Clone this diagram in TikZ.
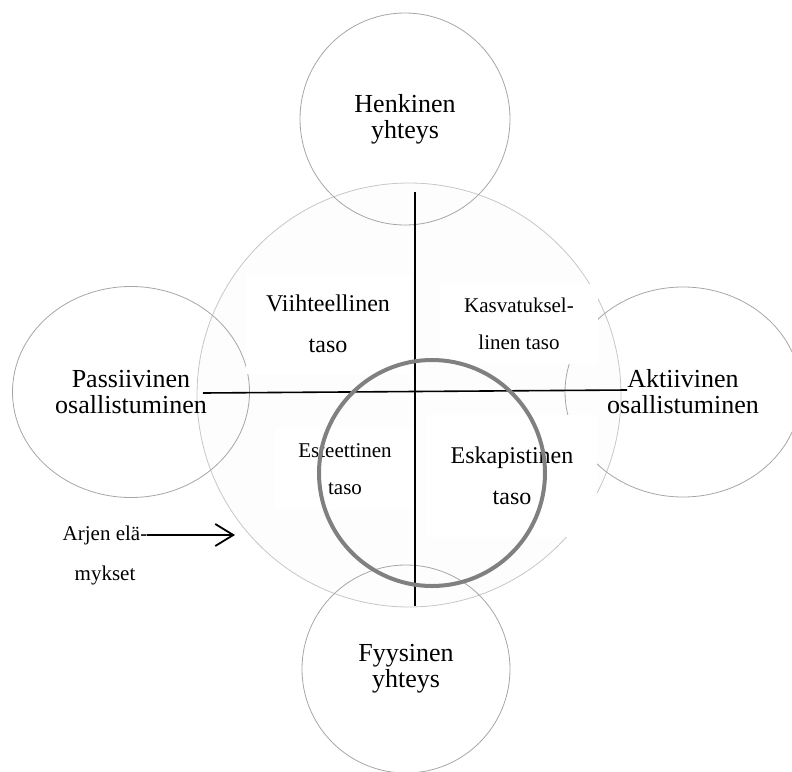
\documentclass[tikz,border=0pt]{standalone}
\usepackage{fontspec}
\setmainfont{Liberation Serif}
\usetikzlibrary{shapes.geometric,arrows.meta}
\tikzset{
	ympyra/.style={ellipse, draw=black!35, line width=0.8pt, inner sep=0pt, align=center, font=\fontsize{26}{26}\selectfont},
	tasolaatikko/.style={fill=white, inner sep=0pt, align=center},
	akseli/.style={draw=black, line width=1.6pt}
}
\begin{document}
\begin{tikzpicture}[x=1pt, y=-1pt]
		% % Frame
		 	\useasboundingbox (0,0) rectangle (792,771);
		% % Big circle
		 	\node[circle, draw=black!22, fill=black!0.6, line width=0.8pt, minimum size=424pt] (tasot) at (409,395) {};
		% % Outer circles
		 	\node[ympyra, minimum width=210pt, minimum height=212pt] (henkinen) at (405,119) {Henkinen\\yhteys};
		 	\node[ympyra, minimum width=208pt, minimum height=208pt] (fyysinen) at (406,669) {Fyysinen\\yhteys};
		 	\node[ympyra, minimum width=237pt, minimum height=211pt] (passiivinen) at (131,392) {Passiivinen\\osallistuminen};
		 	\node[ympyra, minimum width=236pt, minimum height=210pt] (aktiivinen) at (683,392) {Aktiivinen\\osallistuminen};
		% % Quadrant boxes
		 	\node[tasolaatikko, minimum width=165pt, minimum height=99pt, font=\fontsize{24}{41}\selectfont] (viihde) at (328,324) {Viihteellinen\\taso};
		 	\node[tasolaatikko, minimum width=158pt, minimum height=80pt, font=\fontsize{21}{37}\selectfont] (kasvatus) at (519,324) {Kasvatuksel-\\linen taso};
		 	\node[tasolaatikko, minimum width=140pt, minimum height=80pt, font=\fontsize{21}{37}\selectfont] (estetiikka) at (345,469) {Esteettinen\\taso};
		 	\node[tasolaatikko, minimum width=170pt, minimum height=122pt, font=\fontsize{24}{41}\selectfont] (eskapismi) at (512,476) {Eskapistinen\\taso};
		% % Axes
		 	\coordinate (ylos) at (415,192);
		 	\coordinate (alas) at (415,606);
		 	\coordinate (vasen) at (203,393);
		 	\coordinate (oikea) at (627,390);
		 	\draw[akseli, line width=1.4pt] (ylos) -- (alas);
		 	\draw[akseli] (vasen) -- (oikea);
		% % Experience circle
		 	\node[circle, draw=black!50, line width=4pt, minimum size=226pt] (kokemus) at (432,473) {};
		% % Everyday experiences
		 	\node[align=center, inner sep=0pt, font=\fontsize{21}{40}\selectfont] (arki) at (105,555) {Arjen elä-\\mykset};
		 	\coordinate (nuolialku) at (147,535);
		 	\coordinate (nuolikarki) at (235,535);
		 	\draw[line width=1.8pt, -{Straight Barb[length=18pt, width=22pt]}] (nuolialku) -- (nuolikarki);
\end{tikzpicture}
\end{document}
